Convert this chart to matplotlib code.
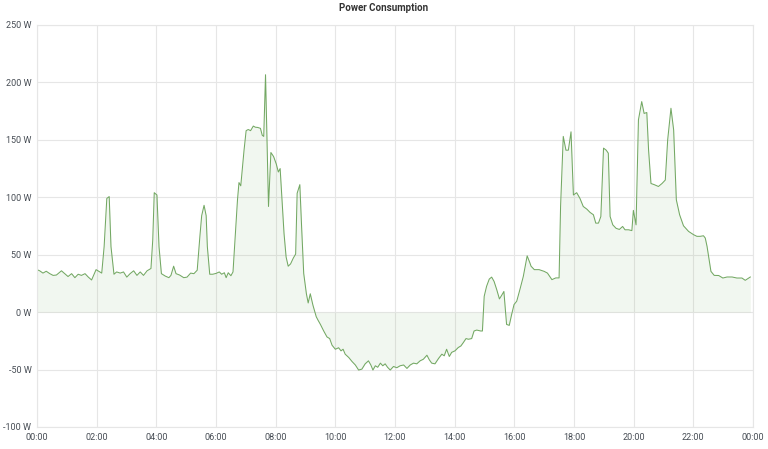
import matplotlib
matplotlib.use('Agg')
import matplotlib.pyplot as plt
import numpy as np

# lecturas de potencia (hora del dia, vatios) tomadas del grafico
horas = [0.0, 0.09, 0.20, 0.31, 0.43, 0.54, 0.65, 0.82, 0.93, 1.04, 1.16, 1.27, 1.38,
         1.49, 1.61, 1.72, 1.83, 1.98, 2.11, 2.17, 2.25, 2.34, 2.42, 2.48, 2.58, 2.67,
         2.79, 2.90, 3.01, 3.12, 3.24, 3.35, 3.46, 3.57, 3.69, 3.82, 3.88, 3.93, 4.02,
         4.09, 4.17, 4.30, 4.42, 4.49, 4.58, 4.66, 4.78, 4.92, 5.03, 5.15, 5.26, 5.37,
         5.46, 5.52, 5.60, 5.67, 5.71, 5.79, 5.89, 6.0, 6.11, 6.19, 6.28, 6.34, 6.41,
         6.50, 6.57, 6.63, 6.72, 6.77, 6.83, 6.88, 6.94, 7.01, 7.08, 7.16, 7.25, 7.32,
         7.40, 7.49, 7.55, 7.60, 7.66, 7.71, 7.76, 7.84, 7.93, 8.02, 8.09, 8.15, 8.20,
         8.28, 8.35, 8.42, 8.50, 8.59, 8.67, 8.72, 8.81, 8.87, 8.94, 9.03, 9.09, 9.16,
         9.25, 9.36, 9.42, 9.50, 9.61, 9.72, 9.81, 9.89, 10.0, 10.11, 10.19, 10.26,
         10.33, 10.45, 10.56, 10.67, 10.78, 10.89, 11.00, 11.11, 11.19, 11.26, 11.34,
         11.42, 11.51, 11.59, 11.67, 11.75, 11.84, 11.95, 12.06, 12.17, 12.29, 12.40,
         12.51, 12.62, 12.73, 12.84, 12.95, 13.07, 13.15, 13.23, 13.34, 13.46, 13.57,
         13.65, 13.73, 13.82, 13.90, 14.01, 14.12, 14.21, 14.29, 14.38, 14.46, 14.57,
         14.65, 14.74, 14.87, 14.93, 14.99, 15.07, 15.16, 15.24, 15.32, 15.41, 15.50,
         15.57, 15.65, 15.74, 15.83, 15.91, 15.99, 16.08, 16.19, 16.30, 16.43, 16.52,
         16.56, 16.67, 16.83, 17.0, 17.11, 17.26, 17.39, 17.5, 17.55, 17.64, 17.73,
         17.81, 17.90, 17.98, 18.09, 18.20, 18.31, 18.43, 18.54, 18.65, 18.73, 18.82,
         18.90, 18.99, 19.08, 19.15, 19.21, 19.30, 19.41, 19.52, 19.63, 19.71, 19.83,
         19.94, 19.99, 20.08, 20.16, 20.27, 20.35, 20.44, 20.50, 20.58, 20.69, 20.83,
         20.95, 21.06, 21.14, 21.25, 21.34, 21.43, 21.54, 21.67, 21.84, 22.01, 22.12,
         22.23, 22.34, 22.40, 22.46, 22.59, 22.70, 22.85, 22.99, 23.13, 23.30, 23.46,
         23.63, 23.74, 23.91]
vatios = [37, 36, 34, 35.6, 33.5, 32, 32.3, 36, 33.5, 31, 33.5, 30, 33,
          32, 33.5, 30.5, 28, 37, 35, 34, 57, 99, 100.6, 57, 33, 35,
          34, 35, 30.5, 33.5, 36, 32, 35, 32, 36, 38, 63, 104, 102,
          57, 33.5, 31.4, 30, 32, 40, 33.5, 32.3, 30, 30.5, 34, 33.5, 36.5,
          66, 84, 93, 84, 57, 33, 33, 33.7, 35, 33, 34.3, 30, 34.3,
          31.7, 35, 60, 97.7, 112.8, 110, 124, 141, 158, 159, 158, 162, 161,
          160.8, 160, 154, 153, 206.7, 150, 92, 139, 135.5, 129, 122, 125, 103.5,
          68.6, 48, 40, 42, 47, 50.6, 103.5, 111, 74, 33.7, 16, 8, 16,
          6, -4, -7, -10.7, -16.4, -21.6, -23, -28.8, -32.3, -31, -33.7, -32.3,
          -36.6, -39.5, -43, -46, -50.4, -49.6, -45, -42.4, -46, -50.4, -46.7,
          -48, -44.4, -46.7, -45, -48, -50.4, -47.3, -48.4, -46.7, -46, -49,
          -46, -44.4, -45, -42.4, -41, -37.5, -41.5, -44.4, -45, -40.3, -36.6,
          -38, -32.3, -38.6, -35, -33.7, -30.8, -29.4, -26.5, -23, -23.6, -23,
          -16.4, -15.6, -16.4, -16.4, 13.8, 22.5, 28.8, 30.5, 26.8, 19.6, 11.5,
          14.4, 18, -10.7, -11.5, -2, 6.6, 9.5, 20, 31, 49, 43,
          40, 37, 37, 35.5, 34, 28.3, 29.8, 29.8, 92, 153, 141,
          141, 157, 102, 104, 99, 92, 89.7, 86.8, 84.8, 77.5, 77.5,
          83.3, 142.8, 141, 138.4, 83.3, 76, 73, 72, 74.6, 71.7, 71.7,
          71, 88.6, 76, 167.4, 183.3, 173, 173.8, 141, 112, 111, 109.4,
          112, 115, 150, 177.5, 158.7, 97.8, 84.8, 75.2, 70.3, 67.4, 66,
          66, 66.5, 64.5, 57.2, 35.5, 32, 31.9, 29.7, 30.6, 30.6, 29.7,
          29.7, 27.7, 30.6]

ticks_x = list(range(0, 25, 2))
etiquetas_x = [f'{h % 24:02d}:00' for h in ticks_x]
ticks_y = [-100, -50, 0, 50, 100, 150, 200, 250]
etiquetas_y = [f'{v} W' for v in ticks_y]

plt.rcParams['font.family'] = ['Roboto', 'DejaVu Sans']

fig = plt.figure(figsize=(7.68, 4.49), dpi=100)
ax = fig.add_axes([37 / 768, 22 / 449, 716 / 768, 402 / 449])

verde = '#73a863'
h = np.array(horas)
w = np.array(vatios)
ax.fill_between(h, w, 0, color='#7eb26d', alpha=0.1, linewidth=0)
ax.plot(h, w, color=verde, linewidth=0.75)

ax.set_xlim(0, 24)
ax.set_ylim(-100, 250)
ax.set_xticks(ticks_x)
ax.set_xticklabels(etiquetas_x)
ax.set_yticks(ticks_y)
ax.set_yticklabels(etiquetas_y)
ax.tick_params(length=0, labelsize=6.5, colors='#464c54', pad=4)
ax.grid(True, color='#e6e6e6', linewidth=0.8)
ax.set_axisbelow(True)
for s in ax.spines.values():
    s.set_color('#e6e6e6')
    s.set_linewidth(0.8)

fig.text(0.5, 1 - 8 / 449, 'Power Consumption', ha='center', va='center',
         fontsize=7, fontweight='bold', color='#333333')

fig.savefig('out.png', dpi=100)
